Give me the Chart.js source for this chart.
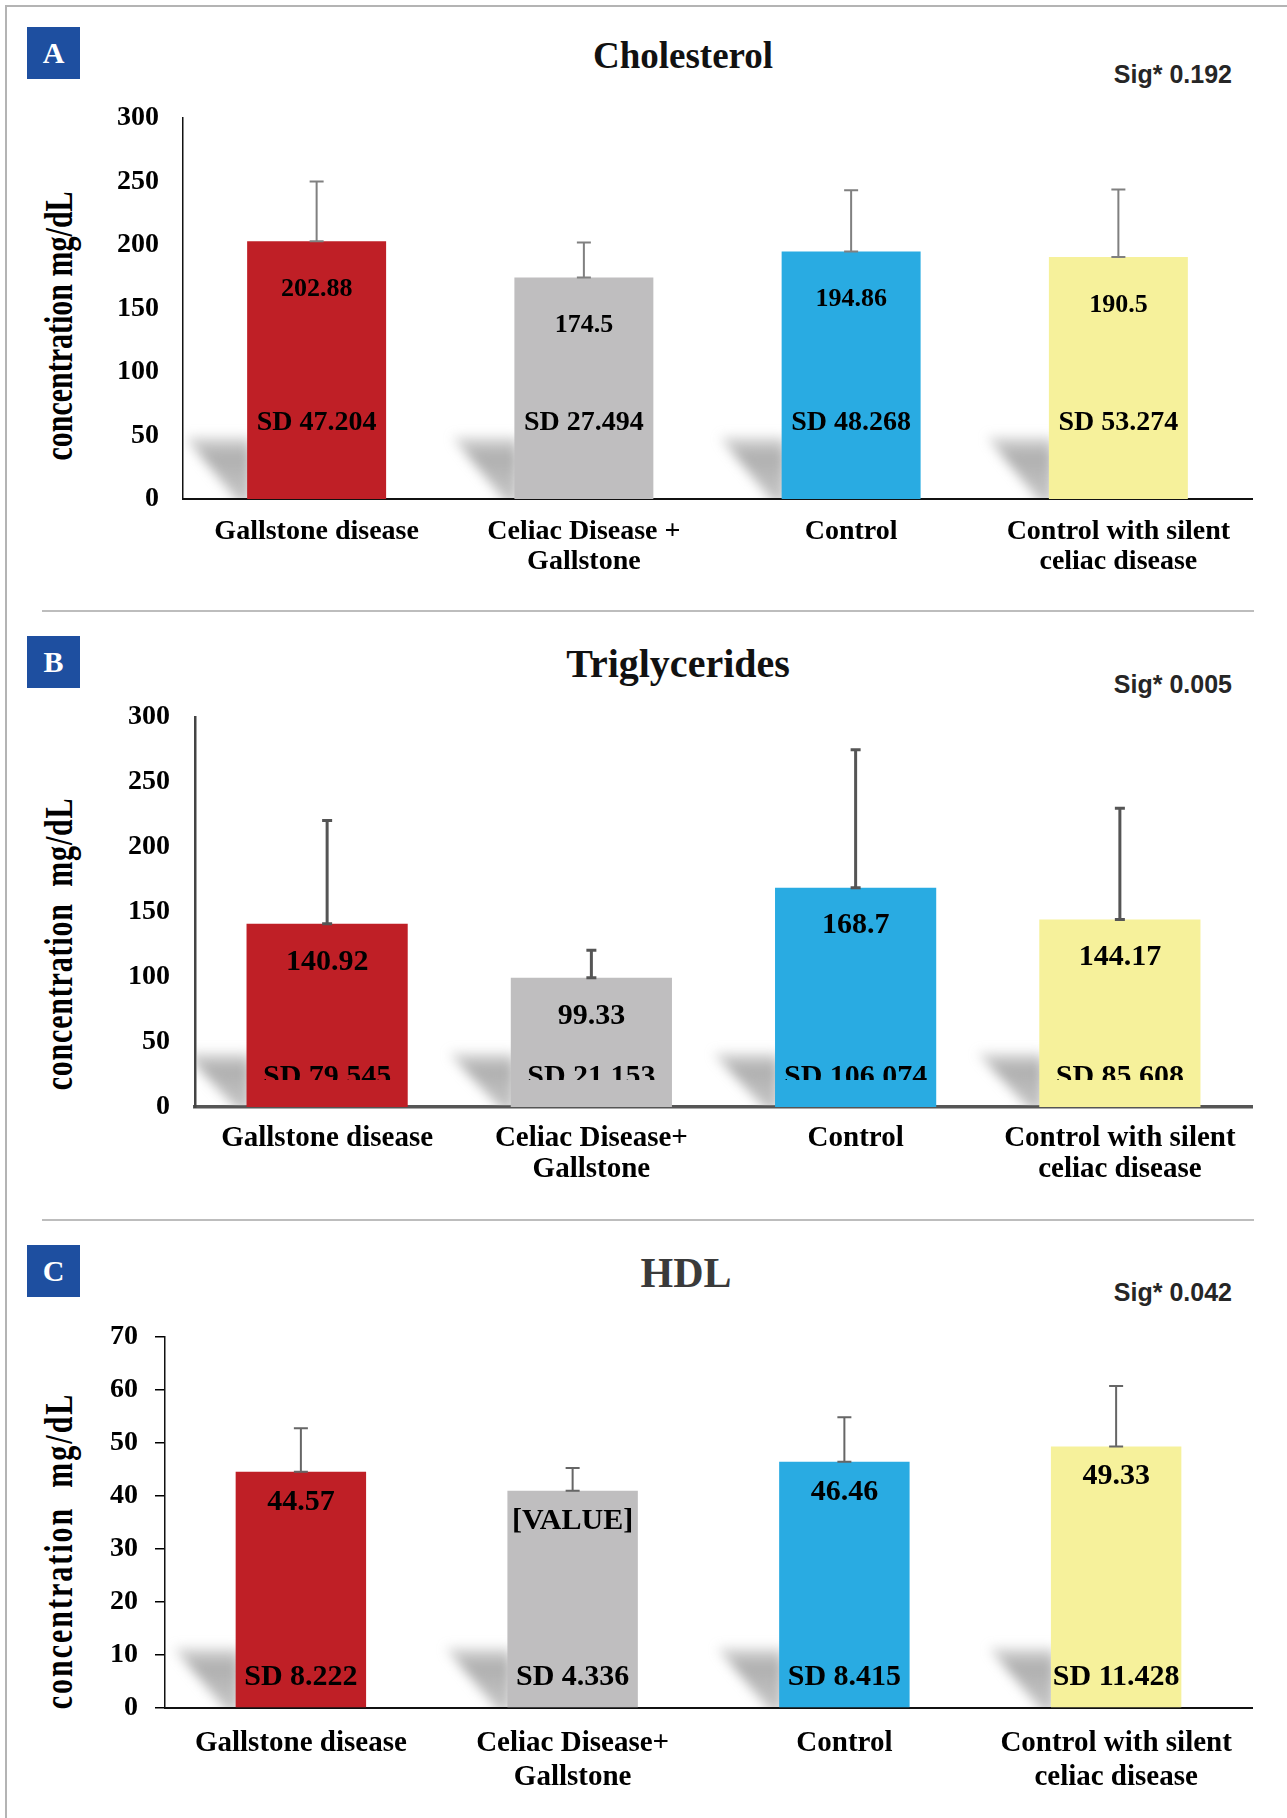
<!DOCTYPE html>
<html><head><meta charset="utf-8">
<script src="https://cdn.jsdelivr.net/npm/chart.js@4.4.1/dist/chart.umd.min.js"></script>
<style>
html,body{margin:0;padding:0;background:#fff;}
#page{position:relative;width:1287px;height:1818px;overflow:hidden;background:#fff;}
.frameTop{position:absolute;left:5px;top:5px;width:1282px;height:2px;background:#b4b4b4;}
.frameLeft{position:absolute;left:5px;top:5px;width:2px;height:1813px;background:#b4b4b4;}
.sep{position:absolute;left:42px;width:1212px;height:2px;background:#bdbdbd;}
.cv{position:absolute;left:0;}
.badge{position:absolute;left:27px;width:53px;height:52px;background:#1E4FA0;color:#fff;font:bold 30px "Liberation Serif";display:flex;align-items:center;justify-content:center;}
.title{position:absolute;transform:translate(-50%,-50%);font-family:"Liberation Serif";font-weight:bold;white-space:nowrap;line-height:1;}
.sig{position:absolute;right:55px;transform:translateY(-50%);font:bold 25px "Liberation Sans";line-height:1;color:#262626;white-space:nowrap;}
.ytitle{position:absolute;transform:translate(-50%,-50%) rotate(-90deg) scaleY(1.35);font:bold 30px "Liberation Serif";line-height:1;white-space:pre;color:#000;}
</style></head>
<body>
<div id="page">
  <div class="frameTop"></div>
  <div class="frameLeft"></div>
  <div class="sep" style="top:610px"></div>
  <div class="sep" style="top:1219px"></div>

  <div class="badge" style="top:27px">A</div>
  <div class="title" style="left:683px;top:55px;font-size:37px;color:#111">Cholesterol</div>
  <div class="sig" style="top:74px">Sig* 0.192</div>
  <div class="ytitle" style="left:58px;top:326px;letter-spacing:0px">concentration mg/dL</div>
  <canvas id="cA" class="cv" style="top:0" width="1287" height="610"></canvas>

  <div class="badge" style="top:636px">B</div>
  <div class="title" style="left:678px;top:664px;font-size:40px;color:#111">Triglycerides</div>
  <div class="sig" style="top:684px">Sig* 0.005</div>
  <div class="ytitle" style="left:58px;top:944px;letter-spacing:0.8px">concentration  mg/dL</div>
  <canvas id="cB" class="cv" style="top:610px" width="1287" height="610"></canvas>

  <div class="badge" style="top:1245px">C</div>
  <div class="title" style="left:686px;top:1273px;font-size:42px;color:#3a3a3a">HDL</div>
  <div class="sig" style="top:1292px">Sig* 0.042</div>
  <div class="ytitle" style="left:58px;top:1551px;letter-spacing:2px">concentration  mg/dL</div>
  <canvas id="cC" class="cv" style="top:1220px" width="1287" height="598"></canvas>
</div>
<script>
// ---------- data ----------
const categoriesA = ['Gallstone disease', ['Celiac Disease +', 'Gallstone'], 'Control', ['Control with silent', 'celiac disease']];
const categoriesBC = ['Gallstone disease', ['Celiac Disease+', 'Gallstone'], 'Control', ['Control with silent', 'celiac disease']];
const barColors = ['#BF1F26', '#BFBEBF', '#29ABE2', '#F6F19B'];

const cholMeans = [202.88, 174.5, 194.86, 190.5];
const cholSD = [47.204, 27.494, 48.268, 53.274];
const cholMeanText = ['202.88', '174.5', '194.86', '190.5'];

const trigMeans = [140.92, 99.33, 168.7, 144.17];
const trigSD = [79.545, 21.153, 106.074, 85.608];
const trigMeanText = ['140.92', '99.33', '168.7', '144.17'];

const hdlMeans = [44.57, 40.97, 46.46, 49.33];
const hdlSD = [8.222, 4.336, 8.415, 11.428];
const hdlMeanText = ['44.57', '[VALUE]', '46.46', '49.33'];

const ticksA = {max: 300, step: 50};
const ticksB = {max: 300, step: 50};
const ticksC = {max: 70, step: 10};

// ---------- chart builder ----------
const SERIF = '"Liberation Serif", "Times New Roman", serif';

function makePlugin(cfg) {
  return {
    id: 'deco_' + cfg.id,
    beforeDatasetsDraw(chart) {
      const ctx = chart.ctx, area = chart.chartArea;
      const meta = chart.getDatasetMeta(0);
      ctx.save();
      ctx.beginPath();
      ctx.rect(area.left + 1.5, area.top, area.right - area.left, area.bottom - area.top - 1);
      ctx.clip();
      ctx.filter = 'blur(6px)';
      meta.data.forEach(bar => {
        const bl = bar.x - bar.width / 2, yb = area.bottom;
        const g = ctx.createLinearGradient(0, yb - cfg.shH, 0, yb);
        g.addColorStop(0, 'rgba(140,140,140,0.3)');
        g.addColorStop(0.3, 'rgba(140,140,140,0.7)');
        g.addColorStop(1, 'rgba(150,150,150,0.55)');
        ctx.fillStyle = g;
        ctx.beginPath();
        ctx.moveTo(bl - cfg.shW, yb - cfg.shH);
        ctx.lineTo(bl + 4, yb - cfg.shH);
        ctx.lineTo(bl + 4, yb + 4);
        ctx.lineTo(bl - 8, yb + 4);
        ctx.closePath();
        ctx.fill();
      });
      ctx.restore();
    },
    afterDatasetsDraw(chart) {
      const ctx = chart.ctx, ys = chart.scales.y, area = chart.chartArea;
      const meta = chart.getDatasetMeta(0);
      ctx.save();
      ctx.strokeStyle = cfg.errColor;
      ctx.lineWidth = cfg.errWidth;
      meta.data.forEach((bar, i) => {
        const yt = ys.getPixelForValue(cfg.means[i] + cfg.sds[i]);
        const yb = bar.y;
        ctx.beginPath();
        ctx.moveTo(bar.x, yb); ctx.lineTo(bar.x, yt);
        ctx.moveTo(bar.x - cfg.cap, yt); ctx.lineTo(bar.x + cfg.cap, yt);
        ctx.moveTo(bar.x - cfg.cap, yb); ctx.lineTo(bar.x + cfg.cap, yb);
        ctx.stroke();
      });
      ctx.fillStyle = '#000';
      ctx.textAlign = 'center';
      ctx.textBaseline = 'middle';
      meta.data.forEach((bar, i) => {
        ctx.font = cfg.valueFont;
        ctx.fillText(cfg.meanText[i], bar.x, bar.y + cfg.valueOffset);
        ctx.save();
        if (cfg.sdClip) {
          ctx.beginPath();
          ctx.rect(bar.x - 120, 0, 240, area.bottom - cfg.sdClip);
          ctx.clip();
        }
        ctx.font = cfg.sdFont;
        ctx.fillText('SD ' + cfg.sds[i], bar.x, area.bottom - cfg.sdOffset);
        ctx.restore();
      });
      ctx.restore();
    }
  };
}

function makeChart(cfg) {
  const canvas = document.getElementById(cfg.id);
  const H = canvas.height;
  return new Chart(canvas, {
    type: 'bar',
    data: {
      labels: cfg.labels,
      datasets: [{
        data: cfg.means,
        backgroundColor: barColors,
        borderWidth: 0,
        barPercentage: cfg.barPct,
        categoryPercentage: 1
      }]
    },
    options: {
      responsive: false,
      animation: false,
      devicePixelRatio: 1,
      layout: {padding: {top: cfg.top, right: 1287 - cfg.right, left: 0, bottom: 0}},
      plugins: {legend: {display: false}, tooltip: {enabled: false}, title: {display: false}},
      scales: {
        x: {
          offset: true,
          grid: {display: false, drawTicks: false},
          border: {display: true, color: cfg.xBorderColor, width: cfg.xBorderWidth},
          ticks: {
            color: '#000', maxRotation: 0, autoSkip: false, padding: cfg.xPad,
            font: {family: SERIF, weight: 'bold', size: cfg.catSize, lineHeight: cfg.catLH}
          },
          afterFit(s) { s.height = H - cfg.bottom; }
        },
        y: {
          min: 0, max: cfg.ticks.max,
          grid: cfg.yTicks ? {display: true, drawOnChartArea: false, drawTicks: true, tickLength: 10, color: '#000', lineWidth: 1.5}
                           : {display: false, drawTicks: false},
          border: {display: true, color: cfg.yBorderColor, width: cfg.yBorderWidth},
          ticks: {
            stepSize: cfg.ticks.step, color: '#000', padding: cfg.yPad,
            font: {family: SERIF, weight: 'bold', size: 28}
          },
          afterFit(s) { s.width = cfg.left; }
        }
      }
    },
    plugins: [makePlugin(cfg)]
  });
}

makeChart({
  id: 'cA', labels: categoriesA, means: cholMeans, sds: cholSD, meanText: cholMeanText, ticks: ticksA,
  left: 183, right: 1252, top: 118, bottom: 499, barPct: 0.52,
  xBorderColor: '#111', xBorderWidth: 2, yBorderColor: '#111', yBorderWidth: 1.5,
  catSize: 28, catLH: 1.1, xPad: 17, yPad: 24, yTicks: false,
  errColor: '#808080', errWidth: 2, cap: 7,
  valueFont: 'bold 26px ' + SERIF, valueOffset: 48,
  sdFont: 'bold 28px ' + SERIF, sdOffset: 76, sdClip: 0,
  shW: 62, shH: 62
});

makeChart({
  id: 'cB', labels: categoriesBC, means: trigMeans, sds: trigSD, meanText: trigMeanText, ticks: ticksB,
  left: 195, right: 1252, top: 107, bottom: 497, barPct: 0.61,
  xBorderColor: '#555', xBorderWidth: 3.5, yBorderColor: '#444', yBorderWidth: 2.5,
  catSize: 29, catLH: 1.08, xPad: 16, yPad: 25, yTicks: false,
  errColor: '#555', errWidth: 3, cap: 5,
  valueFont: 'bold 30px ' + SERIF, valueOffset: 38,
  sdFont: 'bold 30px ' + SERIF, sdOffset: 30, sdClip: 27,
  shW: 62, shH: 54
});

makeChart({
  id: 'cC', labels: categoriesBC, means: hdlMeans, sds: hdlSD, meanText: hdlMeanText, ticks: ticksC,
  left: 165, right: 1252, top: 117, bottom: 488, barPct: 0.48,
  xBorderColor: '#111', xBorderWidth: 2, yBorderColor: '#111', yBorderWidth: 1.5,
  catSize: 29, catLH: 1.17, xPad: 19, yPad: 17, yTicks: true,
  errColor: '#666', errWidth: 2, cap: 7,
  valueFont: 'bold 30px ' + SERIF, valueOffset: 30,
  sdFont: 'bold 30px ' + SERIF, sdOffset: 31, sdClip: 0,
  shW: 62, shH: 60
});
</script>
</body></html>
